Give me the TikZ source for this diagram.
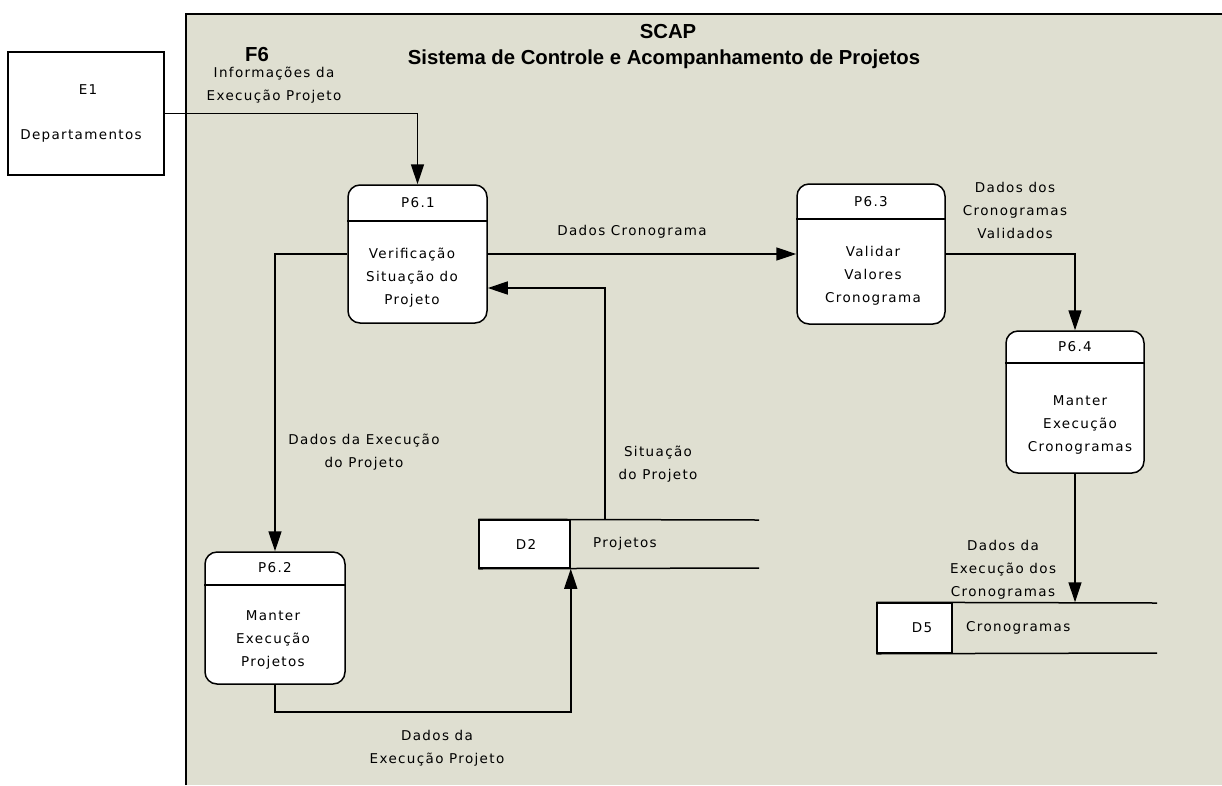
\documentclass[tikz,border=0pt]{standalone}
\usepackage{fontspec}
\newfontfamily\lblfont{DejaVu Sans}[LetterSpace=10]
\newfontfamily\ttlfont{Liberation Sans}
\usetikzlibrary{arrows.meta,positioning}
\definecolor{panelgray}{RGB}{223,223,209}

\begin{document}
\begin{tikzpicture}[
    x=1pt, y=-1pt,
    every node/.style={
        font=\lblfont\fontsize{13.5}{23}\selectfont,
        inner sep=0pt,
        align=center
    },
    proc/.style={draw, fill=white, rounded corners=12pt, line width=1.5pt},
    store/.style={draw, fill=white, line width=1.5pt},
    flow/.style={line width=1.5pt, -{Triangle[length=20pt,width=13pt]}},
    ttl/.style={font=\ttlfont\bfseries\fontsize{20.3}{24}\selectfont}
]
\useasboundingbox (0,0) rectangle (1222,785);
\fill[panelgray] (186,14) rectangle (1222,785);
\draw[line width=1.5pt] (186,785) -- (186,14) -- (1222,14);

% titles
\node[ttl] (scap) at (668,32) {SCAP};
\node[ttl] (sistema) at (664,59) {Sistema de Controle e Acompanhamento de Projetos};
\node[ttl] (f6) at (257,55) {F6};

% external entity
\node[store, minimum width=156pt, minimum height=123pt] (e1) at (86,113.5) {};
\node (e1id) at (88,90) {E1};
\node (e1name) at (81,136) {Departamentos};

% processes
\node[proc, minimum width=139pt, minimum height=138pt] (p61) at (417.5,254) {};
\draw[line width=1.5pt] (p61.west |- 0,221) -- (p61.east |- 0,221);
\node (p61id) at (418,203) {P6.1};
\node (p61txt) at (412,278) {Verificação\\Situação do\\Projeto};

\node[proc, minimum width=148pt, minimum height=140pt] (p63) at (871,254) {};
\draw[line width=1.5pt] (p63.west |- 0,219) -- (p63.east |- 0,219);
\node (p63id) at (871,202) {P6.3};
\node (p63txt) at (873,276) {Validar\\Valores\\Cronograma};

\node[proc, minimum width=138pt, minimum height=142pt] (p64) at (1075,402) {};
\draw[line width=1.5pt] (p64.west |- 0,363) -- (p64.east |- 0,363);
\node (p64id) at (1075,347) {P6.4};
\node (p64txt) at (1080,425) {Manter\\Execução\\Cronogramas};

\node[proc, minimum width=140pt, minimum height=132pt] (p62) at (275,618) {};
\draw[line width=1.5pt] (p62.west |- 0,585) -- (p62.east |- 0,585);
\node (p62id) at (275,568) {P6.2};
\node (p62txt) at (273,640) {Manter\\Execução\\Projetos};

% data stores
\node[store, minimum width=91pt, minimum height=48pt] (d2) at (524.5,544) {};
\coordinate (d2top) at (759,520);
\coordinate (d2bot) at (759,568);
\draw[line width=1.5pt] (d2.north west) -- (d2top);
\draw[line width=1.5pt] (d2.south west) -- (d2bot);
\node (d2id) at (526,544) {D2};
\node[anchor=west] (d2name) at (593,544) {Projetos};

\node[store, minimum width=75pt, minimum height=50pt] (d5) at (914.5,628) {};
\coordinate (d5top) at (1157,603);
\coordinate (d5bot) at (1157,653);
\draw[line width=1.5pt] (d5.north west) -- (d5top);
\draw[line width=1.5pt] (d5.south west) -- (d5bot);
\node (d5id) at (922,628) {D5};
\node[anchor=west] (d5name) at (966,628) {Cronogramas};

% flows
\draw[flow] (e1.east) -| (p61.north);
\draw[flow] (p61.west) -| (p62.north);
\draw[flow] (p61.east) -- (p63.west);
\draw[flow] (d2.north -| 605,0) |- (p61.east |- 0,288);
\draw[flow] (p62.south) -- ++(0,27) -| (d2.south east);
\draw[flow] (p63.east) -| (p64.north);
\draw[flow] (p64.south) -- (p64.south |- d5.north);

% flow labels
\node (l1) at (274,85) {Informações da\\Execução Projeto};
\node (l2) at (632,232) {Dados Cronograma};
\node (l3) at (658,464) {Situação\\do Projeto};
\node (l4) at (364,452) {Dados da Execução\\do Projeto};
\node (l5) at (437,748) {Dados da\\Execução Projeto};
\node (l6) at (1015,210) {Dados dos\\Cronogramas\\Validados};
\node (l7) at (1003,570) {Dados da\\Execução dos\\Cronogramas};
\end{tikzpicture}
\end{document}
